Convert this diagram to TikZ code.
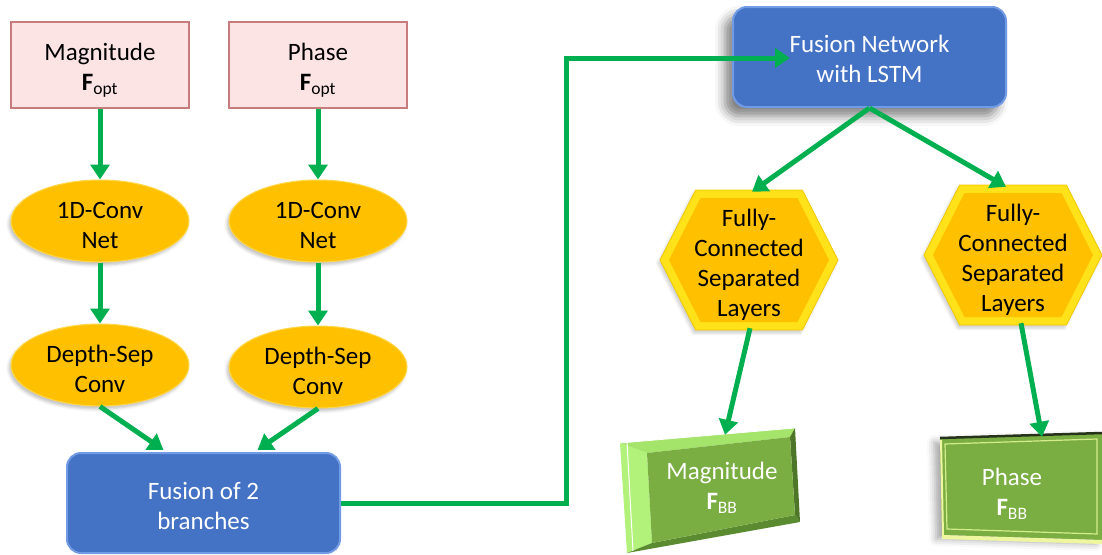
\documentclass[tikz,border=0pt]{standalone}
\usepackage{fontspec}
\setmainfont{Carlito}
\usetikzlibrary{arrows.meta,shapes.geometric,calc,backgrounds,shadows.blur}
\definecolor{pinkfill}{HTML}{FCE4E4}
\definecolor{pinkline}{HTML}{C67B7D}
\definecolor{gold}{HTML}{FFC000}
\definecolor{goldline}{HTML}{FFD84A}
\definecolor{hexrim}{HTML}{FFE21A}
\definecolor{hexedge}{HTML}{F2C800}
\definecolor{bluefill}{HTML}{4472C4}
\definecolor{bluerim}{HTML}{729BE5}
\definecolor{arrowgreen}{HTML}{00B050}
\definecolor{boxgreen}{HTML}{7AAE42}
\definecolor{bevlightL}{HTML}{B2F27A}
\definecolor{bevlightT}{HTML}{A4E46A}
\definecolor{bevdarkR}{HTML}{4E7628}
\definecolor{bevdarkB}{HTML}{5B8B31}
\definecolor{rimlight}{HTML}{D4EC8E}
\definecolor{rimyellow}{HTML}{EEF6A0}
\definecolor{rimdark}{HTML}{26331A}
\newcommand\dnstrut[1]{\rule{0pt}{#1}}
\begin{document}
\begin{tikzpicture}[x=1pt,y=-1pt,
  font=\fontsize{25}{30}\selectfont,
  inbox/.style={rectangle, fill=pinkfill, draw=pinkline, line width=1.5pt,
    minimum width=178pt, minimum height=86pt, align=center, inner sep=0pt},
  convell/.style={ellipse, fill=gold, draw=goldline, line width=1pt,
    minimum width=178pt, minimum height=82pt, align=center, inner sep=0pt,
    blur shadow={shadow xshift=-2pt, shadow yshift=-3pt, shadow blur radius=3pt, shadow opacity=25}},
  fusebox/.style={rectangle, rounded corners=14pt, fill=bluefill, draw=bluerim,
    line width=2pt, minimum width=273pt, minimum height=100pt, align=center,
    text=white, inner sep=0pt},
  hexnode/.style={rectangle, minimum width=178pt, minimum height=140pt,
    align=center, inner sep=0pt},
  outnode/.style={rectangle, minimum width=150pt, minimum height=100pt,
    align=center, text=white, inner sep=0pt},
  arr/.style={draw=arrowgreen, line width=5pt, -{Triangle[width=19pt,length=15pt]}}
]
\useasboundingbox (0,0) rectangle (1102,554);

% input boxes
\node[inbox] (mag) at (100,65) {\dnstrut{28pt}Magnitude\\{\bfseries F}\textsubscript{opt}};
\node[inbox] (pha) at (318,65) {\dnstrut{28pt}Phase\\{\bfseries F}\textsubscript{opt}};

% conv ellipses
\node[convell] (c1) at (100,221) {\dnstrut{26pt}1D-Conv\\Net};
\node[convell] (c2) at (318,221) {\dnstrut{26pt}1D-Conv\\Net};
\node[convell] (d1) at (100,365) {\dnstrut{26pt}Depth-Sep\\Conv};
\node[convell] (d2) at (318,367) {\dnstrut{26pt}Depth-Sep\\Conv};

% fusion boxes
\node[fusebox] (fb) at (203.5,503) {\dnstrut{23pt}Fusion of 2\\branches};
\node[fusebox, blur shadow={shadow xshift=-8pt, shadow yshift=-9pt, shadow blur radius=10pt, shadow opacity=50}] (fn) at (869.5,57) {\dnstrut{21pt}Fusion Network\\with LSTM};

% hexagons
\node[hexnode] (h1) at (749,260) {\dnstrut{28pt}Fully-\\Connected\\Separated\\Layers};
\node[hexnode] (h2) at (1013,255) {\dnstrut{28pt}Fully-\\Connected\\Separated\\Layers};
\begin{scope}[on background layer]
  \foreach \n in {h1,h2}{
    \begin{scope}[shift={(\n.center)}]
      \fill[hexrim, blur shadow={shadow xshift=-2pt, shadow yshift=-3pt, shadow blur radius=3pt, shadow opacity=20}]
        (-89,0) -- (-53.4,-70) -- (53.4,-70) -- (89,0) -- (53.4,70) -- (-53.4,70) -- cycle;
      \draw[hexedge, line width=0.8pt]
        (-89,0) -- (-53.4,-70) -- (53.4,-70) -- (89,0) -- (53.4,70) -- (-53.4,70) -- cycle;
      \fill[gold]
        (-80,0) -- (-48.5,-62) -- (48.5,-62) -- (80,0) -- (48.5,62) -- (-48.5,62) -- cycle;
    \end{scope}
  }
\end{scope}

% output boxes
\node[outnode] (mb) at (722,488) {Magnitude\\{\bfseries F}\textsubscript{BB}};
\node[outnode] (pb) at (1012,492) {\dnstrut{21pt}Phase\\{\bfseries F}\textsubscript{BB}};
\begin{scope}[on background layer, shift={(mb.center)}]
  \fill[bevlightL] (-102,-45) -- (-75,-35) -- (-70,55) -- (-95,65) -- cycle;
  \fill[bevlightT] (-102,-45) -- (73,-60) -- (68,-51) -- (-75,-35) -- cycle;
  \fill[bevdarkR] (73,-60) -- (78,34) -- (73,27) -- (68,-51) -- cycle;
  \fill[bevdarkB] (-95,65) -- (-70,55) -- (73,27) -- (78,34) -- cycle;
  \fill[boxgreen] (-75,-35) -- (68,-51) -- (73,27) -- (-70,55) -- cycle;
  \draw[white, line width=1pt] (-95,-46) -- (-89,63);
  \draw[white, line width=0.8pt] (-102,-45) -- (73,-60);
\end{scope}
\begin{scope}[on background layer, shift={(pb.center)}]
  \fill[boxgreen, blur shadow={shadow xshift=-6pt, shadow yshift=-4pt, shadow blur radius=7pt, shadow opacity=35}]
    (-72,-54) -- (90,-59) -- (90,48) -- (-70,43) -- cycle;
  \draw[rimlight, line width=1.2pt] (-67,-48) -- (85,-53) -- (85,42) -- (-65,37) -- cycle;
  \draw[rimyellow, line width=4pt] (-70,45) -- (90,50);
  \draw[rimyellow, line width=2pt] (-71,-52) -- (-69,43);
  \draw[rimdark, line width=2.5pt] (-72,-54) -- (90,-59);
\end{scope}

% connectors
\draw[arr] (mag.south) -- (c1.north);
\draw[arr] (pha.south) -- (c2.north);
\draw[arr] (c1.south) -- (d1.north);
\draw[arr] (c2.south) -- (d2.north);
\draw[arr] (d1.south) -- ($(fb.north)+(-40,-2)$);
\draw[arr] (d2.south) -- ($(fb.north)+(54,-2)$);
\coordinate (jog) at (566,503);
\draw[arr] (fb.east) -- (jog) |- ($(fn.west)+(58,1)$);
\draw[arr] (fn.south) -- ($(h1.north)+(3,2)$);
\draw[arr] (fn.south) -- ($(h2.north)+(-7,2)$);
\draw[arr] ($(h1.south)+(1,-2)$) -- ($(mb.north)+(3,-3)$);
\draw[arr] ($(h2.south)+(8,-2)$) -- ($(pb.north)+(30,-5)$);
\end{tikzpicture}
\end{document}
